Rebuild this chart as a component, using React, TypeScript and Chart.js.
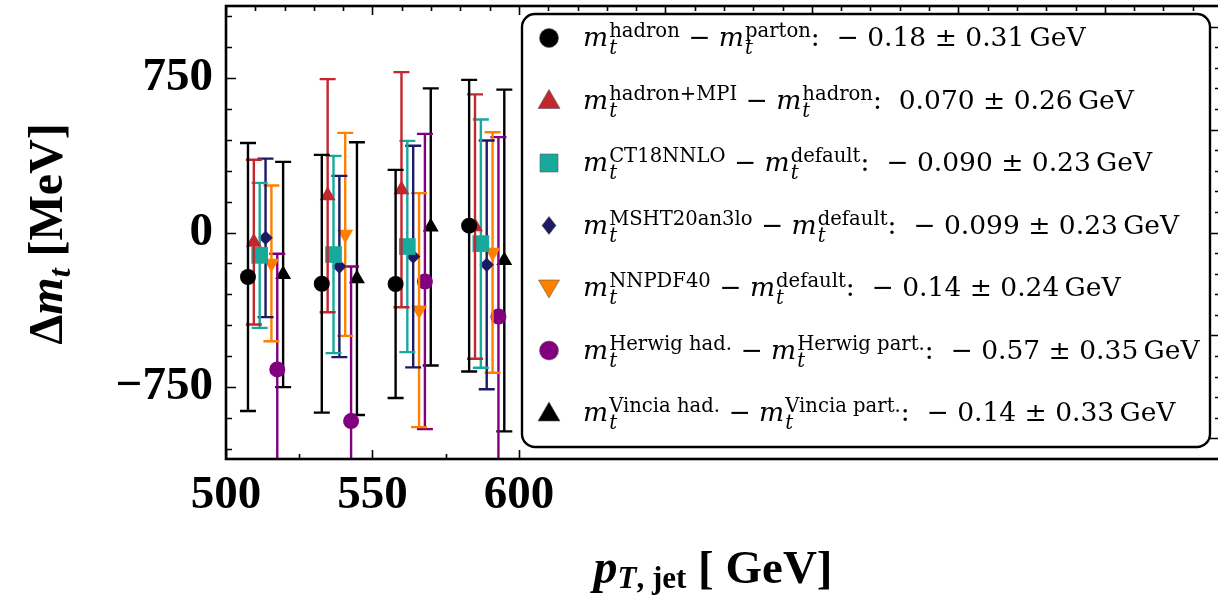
import { useEffect, useRef } from 'react';
import { Chart, registerables } from 'chart.js';

Chart.register(...registerables);

// ---------- data ----------
const ptBins = [513.5, 538.7, 563.9, 589.0];
const seriesOffsets = [-6, -4, -2, 0, 2, 4, 6];

const hadronPartonVals = [-216, -249, -250, 33];
const hadronPartonErrs = [651, 626, 554, 708];
const mpiVals = [-47, 179, 208, 29];
const mpiErrs = [400, 566, 571, 642];
const ct18Vals = [-111, -107, -68, -54];
const ct18Errs = [352, 479, 513, 603];
const mshtVals = [-26, -165, -117, -157];
const mshtErrs = [385, 440, 538, 604];
const nnpdfVals = [-150, -9, -377, -97];
const nnpdfErrs = [378, 493, 568, 584];
const herwigVals = [-665, -916, -238, -408];
const herwigErrs = [562, 751, 717, 871];
const vinciaVals = [-204, -224, 27, -136];
const vinciaErrs = [547, 662, 673, 830];

const seriesVals = [hadronPartonVals, mpiVals, ct18Vals, mshtVals, nnpdfVals, herwigVals, vinciaVals];
const seriesErrs = [hadronPartonErrs, mpiErrs, ct18Errs, mshtErrs, nnpdfErrs, herwigErrs, vinciaErrs];

const legendSupA = ['hadron', 'hadron+MPI', 'CT18NNLO', 'MSHT20an3lo', 'NNPDF40', 'Herwig had.', 'Vincia had.'];
const legendSupB = ['parton', 'hadron', 'default', 'default', 'default', 'Herwig part.', 'Vincia part.'];
const legendValues = ['− 0.18 ± 0.31', '0.070 ± 0.26', '− 0.090 ± 0.23', '− 0.099 ± 0.23', '− 0.14 ± 0.24', '− 0.57 ± 0.35', '− 0.14 ± 0.33'];

const xTickLabels = [500, 550, 600];
const yTickLabels = [-750, 0, 750];

// ---------- styles ----------
const seriesColors = ['#000000', '#c3272e', '#18a99d', '#1c1a63', '#ff8000', '#800080', '#000000'];
const seriesStyles = ['circle', 'triangle', 'rect', 'rectRot', 'triangle', 'circle', 'triangle'];
const seriesRotation = [0, 0, 0, 0, 180, 0, 0];
const seriesRadius = [8, 9.2, 11.8, 7.2, 9.2, 8, 9.2];

const W = 1224;
const H = 597;
const BOLD = '"Liberation Serif", "DejaVu Serif", serif';
const TXT = '"DejaVu Serif", serif';

function drawMarker(ctx: CanvasRenderingContext2D, style: number, x: number, y: number) {
  ctx.save();
  ctx.fillStyle = seriesColors[style];
  ctx.strokeStyle = 'rgba(90,90,90,0.6)';
  ctx.lineWidth = 1;
  ctx.beginPath();
  if (style === 0 || style === 5) {
    ctx.arc(x, y, 9.5, 0, Math.PI * 2);
  } else if (style === 1 || style === 6) {
    ctx.moveTo(x, y - 11);
    ctx.lineTo(x + 11, y + 8);
    ctx.lineTo(x - 11, y + 8);
    ctx.closePath();
  } else if (style === 4) {
    ctx.moveTo(x - 10.5, y - 8);
    ctx.lineTo(x + 10.5, y - 8);
    ctx.lineTo(x, y + 10);
    ctx.closePath();
  } else if (style === 2) {
    ctx.rect(x - 9, y - 9, 18, 18);
  } else if (style === 3) {
    ctx.moveTo(x, y - 9);
    ctx.lineTo(x + 7, y);
    ctx.lineTo(x, y + 9);
    ctx.lineTo(x - 7, y);
    ctx.closePath();
  }
  ctx.fill();
  ctx.stroke();
  ctx.restore();
}

function drawMt(ctx: CanvasRenderingContext2D, x: number, b: number, sup: string) {
  ctx.font = `italic 26.5px ${TXT}`;
  ctx.fillText('m', x, b);
  x += ctx.measureText('m').width + 1;
  ctx.font = `19.6px ${TXT}`;
  ctx.fillText(sup, x, b - 9);
  const ws = ctx.measureText(sup).width;
  ctx.font = `italic 19.6px ${TXT}`;
  ctx.fillText('t', x, b + 8);
  const wt = ctx.measureText('t').width;
  return x + Math.max(ws, wt);
}

const errorBarPlugin = {
  id: 'errorBars',
  beforeDatasetDraw(chart: any, args: any) {
    const i = args.index;
    const ds = chart.data.datasets[i];
    const errs = seriesErrs[i];
    const { ctx, chartArea: a } = chart;
    const xs = chart.scales.x;
    const ys = chart.scales.y;
    ctx.save();
    ctx.beginPath();
    ctx.rect(a.left, a.top, a.right - a.left, a.bottom - a.top);
    ctx.clip();
    ctx.strokeStyle = seriesColors[i];
    ctx.lineWidth = 2.4;
    ds.data.forEach((p: any, j: number) => {
      const px = xs.getPixelForValue(p.x);
      const top = ys.getPixelForValue(p.y + errs[j]);
      const bot = ys.getPixelForValue(p.y - errs[j]);
      ctx.beginPath();
      ctx.moveTo(px, top);
      ctx.lineTo(px, bot);
      ctx.moveTo(px - 8, top);
      ctx.lineTo(px + 8, top);
      ctx.moveTo(px - 8, bot);
      ctx.lineTo(px + 8, bot);
      ctx.stroke();
    });
    ctx.restore();
  },
};

const framePlugin = {
  id: 'frameAndDecor',
  afterDatasetsDraw(chart: any) {
    const { ctx, chartArea: a } = chart;
    const xs = chart.scales.x;
    const ys = chart.scales.y;
    ctx.save();
    ctx.strokeStyle = '#000';
    ctx.lineWidth = 1.6;
    ctx.beginPath();
    for (let v = -1050; v <= 1050; v += 150) {
      const py = Math.round(ys.getPixelForValue(v)) + 0.5;
      const len = v % 750 === 0 ? 10 : 6;
      ctx.moveTo(a.left, py);
      ctx.lineTo(a.left + len, py);
    }
    for (let v = -1000; v <= 1000; v += 100) {
      const py = Math.round(ys.getPixelForValue(v)) + 0.5;
      const len = v % 500 === 0 ? 14 : 7;
      ctx.moveTo(a.right, py);
      ctx.lineTo(a.right - len, py);
    }
    for (let v = 500; v <= 600; v += 25) {
      const px = Math.round(xs.getPixelForValue(v)) + 0.5;
      const len = v % 50 === 0 ? 9 : 5;
      ctx.moveTo(px, a.bottom);
      ctx.lineTo(px, a.bottom - len);
    }
    for (let v = 500; v <= 830; v += 10) {
      const px = Math.round(xs.getPixelForValue(v)) + 0.5;
      const len = v % 50 === 0 ? 9 : 5;
      ctx.moveTo(px, a.top);
      ctx.lineTo(px, a.top + len);
    }
    ctx.stroke();
    ctx.lineWidth = 2.6;
    ctx.strokeRect(a.left, a.top, a.right - a.left, a.bottom - a.top);
    ctx.restore();
  },
  afterDraw(chart: any) {
    const { ctx } = chart;
    ctx.save();
    const lx = 522, ly = 14, lw = 688, lh = 433, r = 13;
    ctx.beginPath();
    ctx.moveTo(lx + r, ly);
    ctx.lineTo(lx + lw - r, ly);
    ctx.arcTo(lx + lw, ly, lx + lw, ly + r, r);
    ctx.lineTo(lx + lw, ly + lh - r);
    ctx.arcTo(lx + lw, ly + lh, lx + lw - r, ly + lh, r);
    ctx.lineTo(lx + r, ly + lh);
    ctx.arcTo(lx, ly + lh, lx, ly + lh - r, r);
    ctx.lineTo(lx, ly + r);
    ctx.arcTo(lx, ly, lx + r, ly, r);
    ctx.closePath();
    ctx.fillStyle = '#fff';
    ctx.fill();
    ctx.strokeStyle = '#000';
    ctx.lineWidth = 2.4;
    ctx.stroke();

    ctx.fillStyle = '#000';
    ctx.textBaseline = 'alphabetic';
    ctx.textAlign = 'left';
    for (let i = 0; i < legendSupA.length; i++) {
      const cy = 38 + i * 62.5;
      drawMarker(ctx, i, 549, cy);
      ctx.fillStyle = '#000';
      const b = cy + 8;
      let x = 583;
      x = drawMt(ctx, x, b, legendSupA[i]);
      ctx.font = `26.5px ${TXT}`;
      ctx.fillText(' − ', x, b);
      x += ctx.measureText(' − ').width;
      x = drawMt(ctx, x, b, legendSupB[i]);
      ctx.font = `26.5px ${TXT}`;
      const tail = ':  ' + legendValues[i] + '\u2009GeV';
      ctx.fillText(tail, x, b);
    }

    {
      const parts: [string, string, number][] = [
        ['p', `italic bold 48px ${BOLD}`, 0],
        ['T', `italic bold 31px ${BOLD}`, 5],
        [', jet', `bold 31px ${BOLD}`, 5],
        [' [ GeV]', `bold 47px ${BOLD}`, 0],
      ];
      let total = 0;
      parts.forEach(([t, f]) => { ctx.font = f; total += ctx.measureText(t).width; });
      let x = 713 - total / 2;
      const b = 583;
      parts.forEach(([t, f, dy]) => {
        ctx.font = f;
        ctx.fillText(t, x, b + dy);
        x += ctx.measureText(t).width;
      });
    }
    {
      const parts: [string, string, number][] = [
        ['Δ', `bold 48px ${BOLD}`, 0],
        ['m', `italic bold 48px ${BOLD}`, 0],
        ['t', `italic bold 32px ${BOLD}`, 8],
        [' [MeV]', `bold 48px ${BOLD}`, 0],
      ];
      let total = 0;
      parts.forEach(([t, f]) => { ctx.font = f; total += ctx.measureText(t).width; });
      ctx.save();
      ctx.translate(62, 234);
      ctx.rotate(-Math.PI / 2);
      let x = -total / 2;
      parts.forEach(([t, f, dy]) => {
        ctx.font = f;
        ctx.fillText(t, x, dy);
        x += ctx.measureText(t).width;
      });
      ctx.restore();
    }
    ctx.restore();
  },
};

const zeroPad = (s: any) => {
  s.paddingTop = 0;
  s.paddingBottom = 0;
  s.paddingLeft = 0;
  s.paddingRight = 0;
};

export default function App() {
  const ref = useRef<HTMLCanvasElement>(null);

  useEffect(() => {
    if (!ref.current) return;
    const datasets = seriesVals.map((vals, i) => ({
      label: legendSupA[i],
      data: vals.map((v, j) => ({ x: ptBins[j] + seriesOffsets[i], y: v })),
      backgroundColor: seriesColors[i],
      borderColor: seriesColors[i],
      borderWidth: 0,
      pointStyle: seriesStyles[i] as any,
      pointRotation: seriesRotation[i],
      pointRadius: seriesRadius[i],
      pointHoverRadius: seriesRadius[i],
      showLine: false,
    }));
    const tickFont = { family: BOLD, weight: 'bold' as const, size: 47 };
    const chart = new Chart(ref.current, {
      type: 'scatter',
      data: { datasets },
      options: {
        responsive: false,
        animation: false,
        devicePixelRatio: 1,
        layout: { autoPadding: false, padding: { top: 6, right: 2, left: 0, bottom: 0 } },
        plugins: { legend: { display: false }, tooltip: { enabled: false } },
        scales: {
          x: {
            type: 'linear',
            min: 500,
            max: 840,
            grid: { display: false, drawTicks: false },
            border: { display: false },
            ticks: { font: tickFont, color: '#000', padding: 9, maxRotation: 0 },
            afterBuildTicks: (s: any) => { s.ticks = xTickLabels.map((value) => ({ value })); },
            afterFit: (s: any) => { s.height = 138; zeroPad(s); },
          },
          y: {
            type: 'linear',
            min: -1100,
            max: 1100,
            grid: { display: false, drawTicks: false },
            border: { display: false },
            ticks: {
              font: tickFont,
              color: '#000',
              padding: 13,
              callback: (v: any) => (v < 0 ? '−' + Math.abs(v) : String(v)),
            },
            afterBuildTicks: (s: any) => { s.ticks = yTickLabels.map((value) => ({ value })); },
            afterFit: (s: any) => { s.width = 226; zeroPad(s); },
          },
        },
      },
      plugins: [errorBarPlugin, framePlugin],
    });
    return () => chart.destroy();
  }, []);

  return (
    <div style={{ position: 'fixed', left: 0, top: 0, width: 1218, height: 597, overflow: 'hidden', background: '#fff' }}>
      <canvas ref={ref} width={W} height={H} style={{ display: 'block', width: W, height: H }} />
    </div>
  );
}
